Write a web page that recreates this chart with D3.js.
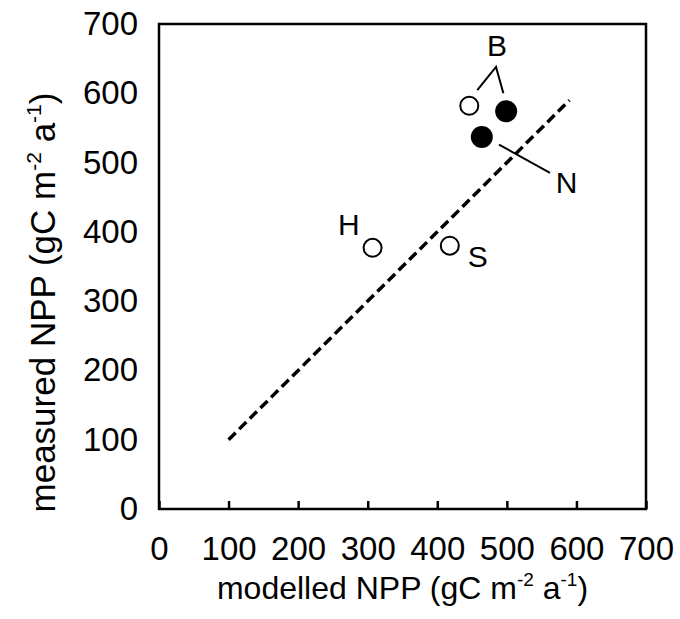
<!DOCTYPE html>
<html>
<head>
<meta charset="utf-8">
<script src="https://cdn.jsdelivr.net/npm/d3@7"></script>
<style>
  html, body { margin: 0; padding: 0; background: #fff; }
  svg { display: block; }
</style>
</head>
<body>
<div id="chart"></div>
<script>
// site points (modelled vs measured NPP, gC m-2 a-1)
var siteNames = ["B", "B", "N", "H", "S"]
var modelled = [446, 499, 464, 307, 418]
var measured = [582, 574, 537, 377, 380]
var filled = [false, true, true, false, false]

// 1:1 reference line
var refLine = [[100, 100], [590, 590]]

var xTicks = [0, 100, 200, 300, 400, 500, 600, 700]
var yTicks = [0, 100, 200, 300, 400, 500, 600, 700]

// label text positions in data units
var labels = [
  {text: "B", x: 486, y: 669},
  {text: "N", x: 586, y: 472},
  {text: "H", x: 273, y: 411},
  {text: "S", x: 458, y: 365}
]
// leader lines (data units)
var leaders = [
  [[457.5, 604.7], [484.4, 638], [495, 600]],
  [[488.7, 526], [562, 485]]
]

var fontFam = "Arial, 'Liberation Sans', sans-serif"
var outerWidth = 680, outerHeight = 619
var margins = {left: 159, right: 34, top: 24, bottom: 110}
var innerWidth = outerWidth - margins.left - margins.right
var innerHeight = outerHeight - margins.top - margins.bottom

var svg = d3.select("#chart").append("svg")
    .attr("width", outerWidth)
    .attr("height", outerHeight)
    .attr("font-family", fontFam)

var plot = svg.append("g")
    .attr("transform", "translate(" + margins.left + "," + margins.top + ")")

var xScale = d3.scaleLinear().domain([0, 700]).range([0, innerWidth])
var yScale = d3.scaleLinear().domain([0, 700]).range([innerHeight, 0])

// x axis, ticks pointing inward
var xAxis = plot.append("g")
    .attr("transform", "translate(0," + innerHeight + ")")
    .call(d3.axisBottom(xScale).tickValues(xTicks).tickSizeInner(-8).tickSizeOuter(0).tickPadding(28))
    .attr("font-size", 33)
    .attr("font-family", fontFam)
xAxis.select(".domain").remove()
xAxis.selectAll("line").attr("stroke", "#000").attr("stroke-width", 2.5)
xAxis.selectAll("text").attr("fill", "#000")

var yAxis = plot.append("g")
    .call(d3.axisLeft(yScale).tickValues(yTicks).tickSize(0).tickPadding(21))
    .attr("font-size", 33)
    .attr("font-family", fontFam)
yAxis.select(".domain").remove()
yAxis.selectAll("text").attr("fill", "#000")

// frame
plot.append("rect")
    .attr("x", 0).attr("y", 0)
    .attr("width", innerWidth).attr("height", innerHeight)
    .attr("fill", "none")
    .attr("stroke", "#000")
    .attr("stroke-width", 2.5)

var line = d3.line()
    .x(function(d){ return xScale(d[0]) })
    .y(function(d){ return yScale(d[1]) })

plot.append("path")
    .attr("d", line(refLine))
    .attr("fill", "none")
    .attr("stroke", "#000")
    .attr("stroke-width", 3.5)
    .attr("stroke-dasharray", "10,5")

leaders.forEach(function(l){
    plot.append("path")
        .attr("d", line(l))
        .attr("fill", "none")
        .attr("stroke", "#000")
        .attr("stroke-width", 2)
})

plot.selectAll(".pt")
    .data(modelled)
    .enter()
    .append("circle")
    .attr("class", "pt")
    .attr("cx", function(d){ return xScale(d) })
    .attr("cy", function(d, i){ return yScale(measured[i]) })
    .attr("r", function(d, i){ return filled[i] ? 11 : 9 })
    .attr("fill", function(d, i){ return filled[i] ? "#000" : "#fff" })
    .attr("stroke", "#000")
    .attr("stroke-width", function(d, i){ return filled[i] ? 0 : 2 })

plot.selectAll(".lbl")
    .data(labels)
    .enter()
    .append("text")
    .attr("class", "lbl")
    .attr("x", function(d){ return xScale(d.x) })
    .attr("y", function(d){ return yScale(d.y) })
    .attr("dy", "0.36em")
    .attr("text-anchor", "middle")
    .attr("font-size", 30)
    .text(function(d){ return d.text })

// axis titles
function unitTitle(sel, name, size){
    var sup = Math.round(size * 0.6), shift = Math.round(size * 0.4)
    sel.append("tspan").text(name + " (gC m")
    sel.append("tspan").attr("font-size", sup).attr("dy", -shift).text("-2")
    sel.append("tspan").attr("dy", shift).text(" a")
    sel.append("tspan").attr("font-size", sup).attr("dy", -shift).text("-1")
    sel.append("tspan").attr("dy", shift).text(")")
}

svg.append("text")
    .attr("x", margins.left + innerWidth / 2)
    .attr("y", 599)
    .attr("text-anchor", "middle")
    .attr("font-size", 32)
    .call(unitTitle, "modelled NPP", 32)

svg.append("text")
    .attr("transform", "translate(55," + (margins.top + innerHeight / 2 + 36) + ") rotate(-90)")
    .attr("text-anchor", "middle")
    .attr("font-size", 35)
    .call(unitTitle, "measured NPP", 35)
</script>
</body>
</html>
